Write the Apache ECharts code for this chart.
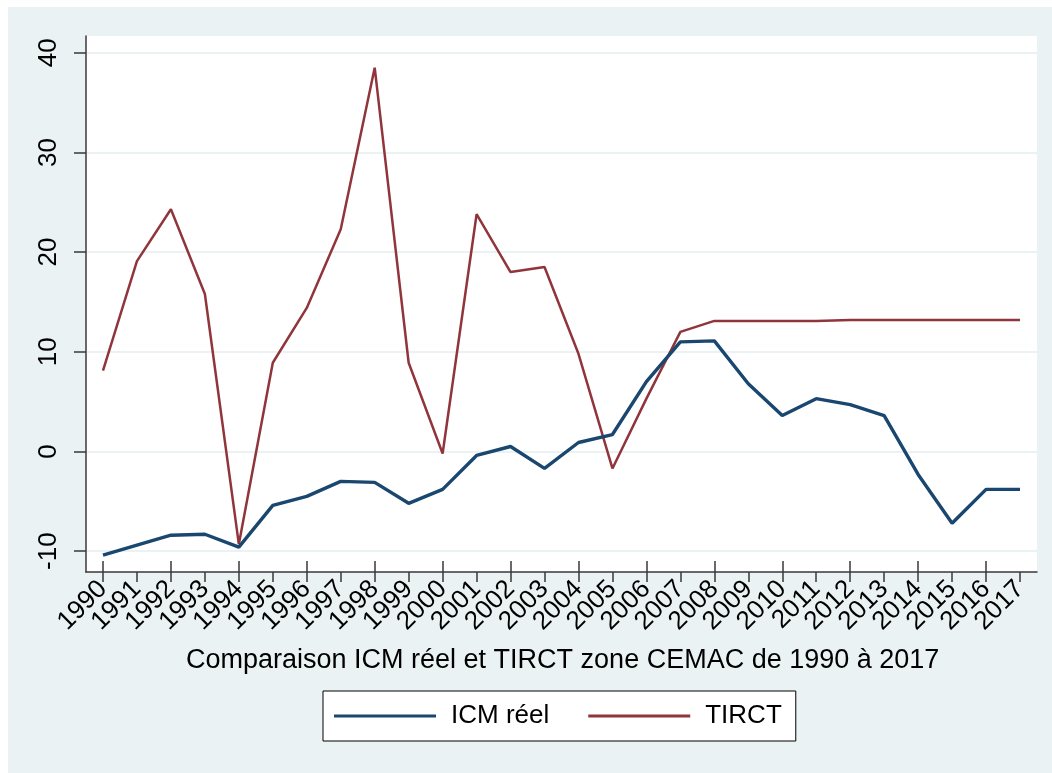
<!DOCTYPE html>
<html>
<head>
<meta charset="utf-8">
<script src="https://cdn.jsdelivr.net/npm/echarts@6/dist/echarts.min.js"></script>
<style>
  html, body { margin: 0; padding: 0; background: #fff; }
  #chart {
    width: 1052px; height: 773px;
    background: linear-gradient(#EAF2F3, #EAF2F3) no-repeat 8px 7px / 1044px 766px, #fff;
  }
</style>
</head>
<body>
<div id="chart"></div>
<script>
// Years on the horizontal axis
const years = ['1990','1991','1992','1993','1994','1995','1996','1997','1998','1999',
               '2000','2001','2002','2003','2004','2005','2006','2007','2008','2009',
               '2010','2011','2012','2013','2014','2015','2016','2017'];

// ICM réel
const icmReel = [-10.4, -9.4, -8.4, -8.3, -9.6, -5.4, -4.5, -3.0, -3.1, -5.2,
                 -3.8, -0.4, 0.5, -1.7, 0.9, 1.7, 7.0, 11.0, 11.1, 6.8,
                 3.6, 5.3, 4.7, 3.6, -2.3, -7.2, -3.8, -3.8];

// TIRCT
const tirct = [8.1, 19.1, 24.3, 15.8, -9.3, 8.9, 14.4, 22.3, 38.5, 8.9,
               -0.2, 23.8, 18.0, 18.5, 9.8, -1.7, 5.3, 12.0, 13.1, 13.1,
               13.1, 13.1, 13.2, 13.2, 13.2, 13.2, 13.2, 13.2];

// Labelled values on the vertical axis
const yTicks = [-10, 0, 10, 20, 30, 40];

const xTitle = 'Comparaison ICM réel et TIRCT zone CEMAC de 1990 à 2017';

const FONT = '"Liberation Sans", Arial, sans-serif';
const AXIS_COLOR = '#3a3a3a';
const BG = '#EAF2F3';

const chart = echarts.init(document.getElementById('chart'), null, { renderer: 'canvas' });

chart.setOption({
  animation: false,
  backgroundColor: 'transparent',
  textStyle: { fontFamily: FONT, color: '#000' },
  grid: {
    left: 86, right: 15, top: 36, bottom: 201,
    show: true, backgroundColor: '#fff', borderWidth: 0
  },
  title: {
    text: xTitle,
    left: 186,
    top: 647,
    padding: 0,
    textStyle: { fontFamily: FONT, fontSize: 27, fontWeight: 'normal', color: '#000' }
  },
  legend: {
    left: 323, top: 691,
    padding: [12, 14, 12, 11],
    itemGap: 39,
    itemWidth: 102,
    itemHeight: 3,
    icon: 'rect',
    backgroundColor: '#fff',
    borderColor: '#000',
    borderWidth: 1,
    borderRadius: 0,
    textStyle: { fontFamily: FONT, fontSize: 26, color: '#000', lineHeight: 26, padding: [0, 0, 0, 10] },
    data: ['ICM réel', 'TIRCT']
  },
  xAxis: [
    {
      type: 'category',
      data: years,
      boundaryGap: true,
      position: 'bottom',
      axisLine: { show: true, onZero: false, lineStyle: { color: AXIS_COLOR, width: 1.5 } },
      axisTick: { show: true, alignWithLabel: true, length: 10, lineStyle: { color: AXIS_COLOR, width: 1.5 } },
      axisLabel: {
        interval: 0, rotate: 45, margin: 13,
        fontFamily: FONT, fontSize: 26, color: '#000'
      },
      splitLine: { show: false }
    },
    {
      // inner half of the crossing ticks
      type: 'category',
      data: years,
      boundaryGap: true,
      position: 'bottom',
      axisLine: { show: false, onZero: false },
      axisTick: { show: true, inside: true, alignWithLabel: true, length: 11, lineStyle: { color: AXIS_COLOR, width: 1.5 } },
      axisLabel: { show: false },
      splitLine: { show: false }
    }
  ],
  yAxis: {
    type: 'value',
    min: -12.09,
    max: 41.68,
    axisLine: { show: true, onZero: false, lineStyle: { color: AXIS_COLOR, width: 1.5 } },
    axisTick: { show: true, length: 12, customValues: yTicks, lineStyle: { color: AXIS_COLOR, width: 1.5 } },
    axisLabel: {
      customValues: yTicks,
      rotate: 90, margin: 24,
      fontFamily: FONT, fontSize: 26, color: '#000'
    },
    splitLine: { show: true, lineStyle: { color: BG, width: 2 } }
  },
  series: [
    {
      name: 'ICM réel',
      type: 'line',
      data: icmReel,
      symbol: 'none',
      lineStyle: { color: '#1A476F', width: 3.4 },
      itemStyle: { color: '#1A476F' },
      z: 3
    },
    {
      name: 'TIRCT',
      type: 'line',
      data: tirct,
      symbol: 'none',
      lineStyle: { color: '#90353B', width: 2.5 },
      itemStyle: { color: '#90353B' },
      z: 2
    }
  ]
});
</script>
</body>
</html>
